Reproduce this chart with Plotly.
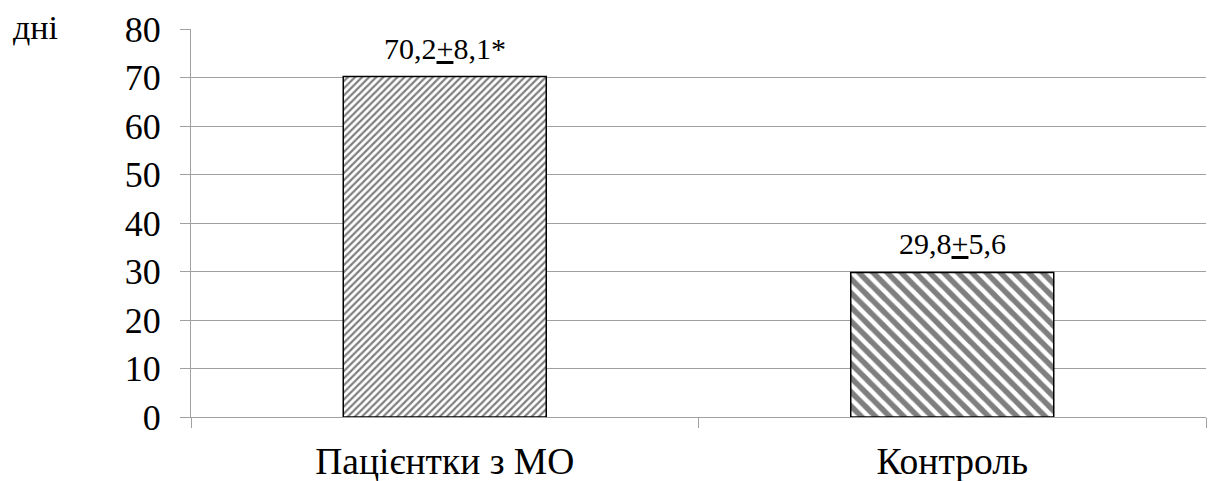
import plotly.graph_objects as go

categories = ["Пацієнтки з МО", "Контроль"]
values = [70.2, 29.8]
labels = ["70,2<u>+</u>8,1*", "29,8<u>+</u>5,6"]
y_ticks = [0, 10, 20, 30, 40, 50, 60, 70, 80]

FONT = "Liberation Serif"

fig = go.Figure()
fig.add_trace(go.Bar(
    x=categories,
    y=values,
    width=0.4,
    marker=dict(
        color="white",
        line=dict(color="black", width=1.5),
        pattern=dict(
            shape=["/", "\\"],
            size=[5, 10],
            solidity=[0.45, 0.55],
            fgcolor="black",
            bgcolor="white",
            fillmode="overlay",
        ),
    ),
    showlegend=False,
))

for c, v, t in zip(categories, values, labels):
    fig.add_annotation(x=c, y=v, text=t, showarrow=False, yanchor="bottom",
                       yshift=10, font=dict(family=FONT, size=30, color="black"))

# page body has an 8px margin: figure is placed at (8, 8)
fig.add_annotation(xref="paper", yref="paper", x=-0.1773, y=1.003, xanchor="left",
                   yanchor="middle", text="дні", showarrow=False,
                   font=dict(family=FONT, size=34, color="black"))

fig.update_layout(
    width=1208, height=473,
    margin=dict(l=183, r=10, t=21, b=64),
    plot_bgcolor="white", paper_bgcolor="white",
    font=dict(family=FONT, size=36, color="black"),
    bargap=0.6,
)
fig.update_xaxes(
    type="category", tickson="boundaries", ticks="outside", ticklen=10,
    tickcolor="#a0a0a0", showline=True, linecolor="#a0a0a0", linewidth=1,
    showgrid=False, ticklabelstandoff=11, automargin=False,
    tickfont=dict(family=FONT, size=37.5, color="black"),
)
fig.update_yaxes(
    range=[0, 80], tickvals=y_ticks, ticks="outside", ticklen=10,
    tickcolor="#a0a0a0", showline=True, linecolor="#a0a0a0", linewidth=1,
    showgrid=True, gridcolor="#a0a0a0", gridwidth=1, zeroline=False,
    ticklabelstandoff=12, automargin=False,
    tickfont=dict(family=FONT, size=36, color="black"),
)

fig.write_html("out.html")
